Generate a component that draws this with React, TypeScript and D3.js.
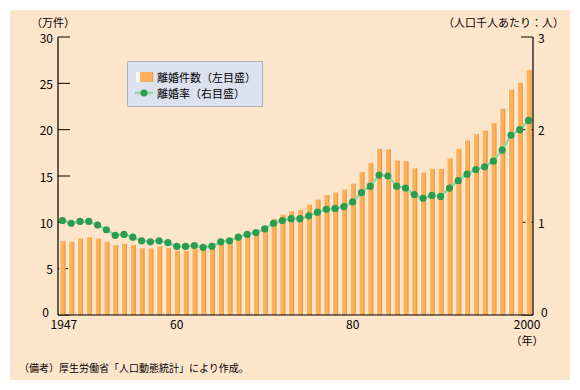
import React from 'react';
import * as d3 from 'd3';

const years: number[] = d3.range(1947, 2001);

// 離婚件数（万件）
const divorces: number[] = [
  7.96, 7.90, 8.26, 8.37, 8.23, 7.90, 7.53, 7.68, 7.53, 7.20,
  7.17, 7.40, 7.25, 6.94, 6.93, 7.14, 7.00, 7.23, 7.72, 7.94,
  8.35, 8.73, 9.13, 9.59, 10.36, 10.84, 11.19, 11.36, 11.91, 12.45,
  12.95, 13.21, 13.53, 14.17, 15.42, 16.40, 17.92, 17.87, 16.66, 16.61,
  15.82, 15.36, 15.78, 15.76, 16.90, 17.92, 18.83, 19.51, 19.90, 20.70,
  22.26, 24.32, 25.05, 26.42,
];

// 離婚率（人口千人あたり）
const rates: number[] = [
  1.02, 0.99, 1.01, 1.01, 0.97, 0.92, 0.86, 0.87, 0.84, 0.80,
  0.79, 0.80, 0.78, 0.74, 0.74, 0.75, 0.73, 0.74, 0.79, 0.80,
  0.84, 0.87, 0.89, 0.93, 0.99, 1.02, 1.04, 1.04, 1.07, 1.11,
  1.14, 1.15, 1.17, 1.22, 1.32, 1.39, 1.51, 1.50, 1.39, 1.37,
  1.30, 1.26, 1.29, 1.28, 1.37, 1.45, 1.52, 1.57, 1.60, 1.66,
  1.78, 1.94, 2.00, 2.10,
];

const leftTicks: number[] = [0, 5, 10, 15, 20, 25, 30];
const rightTicks: number[] = [0, 1, 2, 3];
const xLabels: { year: number; label: string }[] = [
  { year: 1947, label: '1947' },
  { year: 1960, label: '60' },
  { year: 1980, label: '80' },
  { year: 2000, label: '2000' },
];

const W = 580;
const H = 390;
const plot = { left: 58, right: 533, top: 37, bottom: 315 };

const font = '"Noto Sans CJK JP", "Noto Sans", sans-serif';
const barColor = '#fdb05a';
const barDark = '#e39a48';
const lineColor = '#90d8b0';
const dotColor = '#2c9d4c';

const App: React.FC = () => {
  const x = d3.scaleBand<number>()
    .domain(years)
    .range([plot.left, plot.right])
    .paddingInner(0.32)
    .paddingOuter(0.16);
  const yL = d3.scaleLinear().domain([0, 30]).range([plot.bottom, plot.top]);
  const yR = d3.scaleLinear().domain([0, 3]).range([plot.bottom, plot.top]);
  const bw = x.bandwidth();

  const line = d3.line<number>()
    .x((_, i) => (x(years[i]) as number) + bw / 2)
    .y((d) => yR(d));

  // 0 の目盛ラベルは年ラベルと重ならないよう少しずらす
  const labelY = (v: number) => (v === 0 ? -4 : 0);
  const xShift = (yr: number) => (yr === 1947 ? 1.5 : yr === 2000 ? -1.5 : 0);

  return (
    <svg width={W} height={H} style={{ position: 'absolute', left: 0, top: 0 }}>
      <rect x={0} y={0} width={W} height={H} fill="#fff" />
      <rect x={10} y={10} width={560} height={370} fill="#fde5cc" />

      {/* 目盛 */}
      {leftTicks.map((t) => (
        <line key={'lt' + t} x1={plot.left} x2={plot.left + 12} y1={yL(t)} y2={yL(t)} stroke="#000" strokeWidth={1} />
      ))}
      {rightTicks.map((t) => (
        <line key={'rt' + t} x1={plot.right - 12} x2={plot.right} y1={yR(t)} y2={yR(t)} stroke="#000" strokeWidth={1} />
      ))}

      {/* 棒 */}
      {years.map((yr, i) => {
        const bx = x(yr) as number;
        const by = yL(divorces[i]);
        const bh = plot.bottom - by;
        return (
          <g key={yr}>
            <rect x={bx} y={by} width={bw} height={bh} fill={barColor} />
            <rect x={bx} y={by} width={1} height={bh} fill="#fff6ea" />
            <rect x={bx + bw - 1} y={by} width={1} height={bh} fill={barDark} />
          </g>
        );
      })}

      {/* 折れ線 */}
      <path d={line(rates) || ''} fill="none" stroke={lineColor} strokeWidth={2.5} />
      {rates.map((r, i) => (
        <circle key={'d' + i} cx={(x(years[i]) as number) + bw / 2} cy={yR(r)} r={3.6} fill={dotColor} />
      ))}

      {/* 軸線 */}
      <line x1={plot.left} x2={plot.left} y1={plot.top} y2={plot.bottom} stroke="#000" strokeWidth={1.2} />
      <line x1={plot.right} x2={plot.right} y1={plot.top} y2={plot.bottom} stroke="#000" strokeWidth={1.2} />
      <line x1={plot.left} x2={plot.right} y1={plot.bottom} y2={plot.bottom} stroke="#000" strokeWidth={1.2} />

      {/* 目盛ラベル */}
      {leftTicks.map((t) => (
        <text key={'ll' + t} x={t === 0 ? plot.left - 9 : plot.left - 5} y={yL(t) + labelY(t)} textAnchor="end"
          dominantBaseline="central" fontFamily={font} fontSize={12}>{t}</text>
      ))}
      {rightTicks.map((t) => (
        <text key={'rl' + t} x={t === 0 ? plot.right + 8 : plot.right + 5} y={yR(t) + labelY(t)} textAnchor="start"
          dominantBaseline="central" fontFamily={font} fontSize={12}>{t}</text>
      ))}
      {xLabels.map((d) => (
        <text key={'xl' + d.year} x={(x(d.year) as number) + bw / 2 + xShift(d.year)} y={323} textAnchor="middle"
          dominantBaseline="central" fontFamily={font} fontSize={12}>{d.label}</text>
      ))}
      <text x={527} y={340} textAnchor="middle" dominantBaseline="central" fontFamily={font} fontSize={11}>（年）</text>

      {/* 軸タイトル */}
      <text x={53} y={22} textAnchor="middle" dominantBaseline="central" fontFamily={font} fontSize={11}>（万件）</text>
      <text x={564} y={22} textAnchor="end" dominantBaseline="central" fontFamily={font} fontSize={11}>（人口千人あたり：人）</text>

      {/* 凡例 */}
      <rect x={127.5} y={61.5} width={135} height={45} fill="#dde0ef" stroke="#a9b4c6" strokeWidth={1} />
      <rect x={136} y={72} width={17} height={10} fill={barColor} />
      <rect x={136} y={72} width={4} height={10} fill="#fff6ea" />
      <rect x={152} y={72} width={1} height={10} fill={barDark} />
      <text x={157} y={77} dominantBaseline="central" fontFamily={font} fontSize={11}>離婚件数（左目盛）</text>
      <line x1={135} x2={153} y1={93} y2={93} stroke={lineColor} strokeWidth={2.5} />
      <circle cx={144} cy={93} r={3.6} fill={dotColor} />
      <text x={157} y={93} dominantBaseline="central" fontFamily={font} fontSize={11}>離婚率（右目盛）</text>

      {/* 出典 */}
      <text x={19} y={367} dominantBaseline="central" fontFamily={font} fontSize={10}>（備考）厚生労働省「人口動態統計」により作成。</text>
    </svg>
  );
};

export default App;
